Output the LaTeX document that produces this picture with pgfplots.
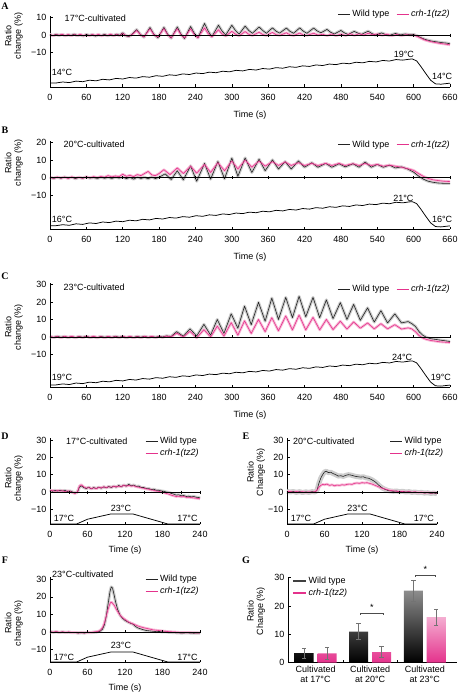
\documentclass[border=0pt]{standalone}
\usepackage{fontspec}
\setmainfont{Liberation Sans}
\newfontfamily\letterfont{Liberation Serif}
\usepackage{pgfplots}
\pgfplotsset{compat=1.18}
\usepackage{pgfplotstable}
\definecolor{wt}{RGB}{35,35,35}
\definecolor{crh}{RGB}{228,50,140}
\definecolor{wtb}{RGB}{205,205,205}
\definecolor{crhb}{RGB}{247,185,214}
\newcommand{\fs}{\fontsize{9}{9.5}\selectfont}

\pgfplotstableread{
t y
0 -27.4
10 -27.4
21 -26.84
32 -27.19
43 -26.33
54 -26.67
65 -25.82
76 -26.16
87 -25.30
98 -25.65
109 -24.79
120 -25.13
131 -24.28
142 -24.62
153 -23.76
164 -24.11
175 -23.25
186 -23.59
197 -22.74
208 -23.08
219 -22.22
230 -22.57
241 -21.71
252 -22.05
263 -21.20
274 -21.54
285 -20.68
296 -21.03
307 -20.17
318 -20.51
329 -19.66
340 -20.00
351 -19.14
362 -19.49
373 -18.63
384 -18.97
395 -18.12
406 -18.46
417 -17.60
428 -17.95
439 -17.09
450 -17.43
461 -16.58
472 -16.92
483 -16.06
494 -16.41
505 -15.55
516 -15.89
527 -15.04
538 -15.38
549 -14.52
560 -14.87
571 -14.01
582 -14.35
593 -13.8
598 -13.7
605 -14.8
612 -18.0
620 -22.0
628 -25.8
636 -27.9
645 -28.1
660 -27.5
}\tempLong

\pgfplotsset{
  base/.style={scale only axis, clip=false, axis x line=bottom, axis y line=left,
    axis line style={-, line width=0.5pt}, tick align=inside, major tick length=2.5pt,
    tick style={black, line width=0.5pt}, font=\fs, tick label style={font=\fs},
    label style={font=\fs}, /pgf/number format/assume math mode=true,
    xticklabel shift=4pt,
    legend style={draw=none, fill=none, font=\fs, inner sep=0pt},
    legend cell align=left,
    legend image code/.code={\draw[##1] (0pt,0pt) -- (12pt,0pt);}},
  trace/.style={base, xmin=0, xmax=660, width=400pt, xtick={0,60,...,660},
    ytick={-10,0,10}, yticklabels={−10,0,10}, xlabel={Time (s)}, xlabel style={yshift=-3pt},
    legend columns=2, legend style={/tikz/every even column/.append style={column sep=5pt}}},
  short/.style={base, xmin=0, xmax=240, width=150pt, xtick={0,60,...,240},
    xlabel={Time (s)}, xlabel style={yshift=-1pt}},
  wtband/.style={wtb, line width=3pt, line join=round, forget plot},
  crhband/.style={crhb, line width=2.6pt, line join=round, forget plot},
  wtline/.style={wt, line width=0.6pt, line join=round, forget plot},
  crhline/.style={crh, line width=0.6pt, line join=round, forget plot},
  zline/.style={black, line width=0.5pt, mark=|, mark size=1.5pt, mark options={solid, line width=0.5pt}, forget plot},
  templine/.style={black, line width=0.75pt, forget plot},
  barleg/.style={legend image code/.code={\draw[##1] (0pt,0pt) -- (13pt,0pt);}},
}

\begin{document}
\begin{tikzpicture}
\useasboundingbox (0pt,0pt) rectangle (459pt,-692pt);

% ---------------- A ----------------
\begin{axis}[trace, at={(50pt,-87pt)}, anchor=south west, ymin=-29.7, ymax=11, height=71.2pt,
  legend style={at={(axis cs:663,12)}, anchor=east}]
\addlegendimage{wt, line width=0.8pt}\addlegendentry{Wild type}
\addlegendimage{crh, line width=0.8pt}\addlegendentry{\textit{crh-1(tz2)}}
\def\Awt{(0,0.2)(5,-0.3)(10,0.4)(15,-0.2)(20,0.3)(25,-0.4)(30,0.1)(35,-0.2)(40,0.5)(45,-0.3)(50,0.1)(55,-0.5)(60,0.3)(65,-0.2)(70,0.2)(75,-0.6)(80,0.1)(85,-0.3)(90,0.4)(95,-0.4)(100,0.2)(105,-0.3)(110,0.5)(115,-0.2)(120,1.3)(125,-0.4)(130,-0.9)(136,0.6)(143,3.1)(149,0.4)(155,-1.2)(165,4.3)(171,0.6)(178,-1.6)(188,4.4)(194,0.5)(200,-1.8)(210,4.6)(216,0.6)(222,-2.0)(232,4.9)(238,1.0)(244,-1.6)(255,6.6)(261,2.2)(267,-1.0)(278,5.6)(284,2.2)(290,0.0)(300,5.6)(306,2.6)(312,0.5)(322,5.1)(328,2.6)(334,1.0)(345,4.6)(351,2.6)(357,1.0)(367,4.1)(373,2.2)(379,1.1)(390,4.0)(396,2.1)(402,1.0)(412,4.1)(418,2.2)(424,1.0)(435,4.0)(441,2.3)(447,1.3)(457,3.2)(463,1.6)(469,0.6)(480,2.6)(486,1.2)(492,0.3)(502,2.1)(508,1.1)(514,0.4)(525,2.2)(531,0.9)(537,0.0)(547,1.2)(554,0.3)(560,-0.2)(570,0.9)(578,0.1)(586,0.6)(594,0.2)(600,0.3)(606,-0.5)(612,-1.5)(618,-2.4)(624,-3.0)(630,-3.5)(636,-3.8)(642,-4.1)(648,-4.4)(654,-4.6)(660,-5.0)}
\def\Acrh{(0,0.3)(5,-0.4)(10,0.2)(15,-0.1)(20,0.4)(25,-0.3)(30,0.3)(35,-0.4)(40,0.2)(45,-0.2)(50,0.4)(55,-0.3)(60,0.1)(65,-0.4)(70,0.3)(75,-0.2)(80,0.4)(85,-0.5)(90,0.1)(95,-0.2)(100,0.5)(105,-0.4)(110,0.3)(115,-0.3)(120,0.9)(125,-0.3)(130,-0.7)(136,0.4)(143,2.6)(149,0.2)(155,-1.0)(165,3.6)(171,0.4)(178,-1.2)(188,3.7)(194,0.2)(200,-1.5)(210,3.6)(216,0.2)(222,-1.6)(232,3.6)(238,0.3)(244,-1.5)(255,4.1)(261,0.8)(267,-1.0)(278,3.0)(284,0.6)(290,-0.6)(300,2.1)(306,0.5)(312,-0.5)(322,2.0)(328,0.4)(334,-0.3)(345,1.6)(351,0.3)(357,-0.3)(367,1.5)(373,0.2)(379,-0.2)(390,1.3)(396,0.1)(402,-0.3)(412,1.1)(418,0.0)(424,-0.2)(435,1.0)(442,0.0)(450,0.4)(457,-0.3)(465,0.6)(472,-0.4)(480,0.5)(488,-0.3)(495,0.8)(502,-0.2)(510,0.7)(518,0.0)(525,1.0)(532,0.2)(540,0.6)(548,-0.2)(556,0.5)(564,-0.4)(572,0.3)(580,-0.3)(588,0.2)(596,-0.1)(600,0.0)(606,-0.8)(612,-1.8)(618,-2.8)(624,-3.4)(630,-3.9)(636,-4.3)(642,-4.7)(648,-5.0)(654,-5.3)(660,-5.6)}
\addplot[wtband] coordinates {\Awt};
\addplot[crhband] coordinates {\Acrh};
\addplot[wtline] coordinates {\Awt};
\addplot[crhline] coordinates {\Acrh};
\addplot[zline] coordinates {(0,0)(60,0)(120,0)(180,0)(240,0)(300,0)(360,0)(420,0)(480,0)(540,0)(600,0)(660,0)};
\addplot[templine] table[x=t,y=y] {\tempLong};
\node[anchor=west, inner sep=0pt] at (axis cs:24,9.7) {17°C-cultivated};
\node[inner sep=0pt] at (axis cs:19.8,-21.5) {14°C};
\node[inner sep=0pt] at (axis cs:584,-10.9) {19°C};
\node[inner sep=0pt] at (axis cs:647,-23.8) {14°C};
\end{axis}

% ---------------- B ----------------
\begin{axis}[trace, at={(50pt,-229pt)}, anchor=south west, ymin=-29.3, ymax=21, height=88pt,
  ytick={-10,0,10,20}, yticklabels={−10,0,10,20},
  legend style={at={(axis cs:663,18.9)}, anchor=east}]
\addlegendimage{wt, line width=0.8pt}\addlegendentry{Wild type}
\addlegendimage{crh, line width=0.8pt}\addlegendentry{\textit{crh-1(tz2)}}
\def\Bwt{(0,0.2)(6,-0.4)(12,0.3)(18,-0.3)(24,0.4)(30,-0.2)(36,0.3)(42,-0.5)(48,0.2)(54,-0.3)(60,0.4)(66,-0.2)(72,0.1)(78,-0.4)(84,0.3)(90,-0.3)(96,0.2)(102,-0.4)(108,0.3)(114,-0.2)(120,0.4)(126,-0.5)(132,0.2)(138,-0.8)(144,0.3)(150,-0.4)(156,0.2)(162,-0.6)(168,0.4)(174,-0.5)(180,0.3)(190,2.2)(200,-1.0)(210,4.0)(220,-1.2)(232,6.8)(242,-2.0)(255,8.2)(265,-0.8)(277,9.3)(288,-0.6)(300,11.2)(310,0.8)(322,11.3)(333,3.0)(345,10.6)(355,4.0)(367,10.2)(377,5.0)(388,9.2)(398,5.0)(410,9.6)(420,6.0)(432,8.6)(442,6.0)(455,8.2)(465,6.0)(477,8.0)(487,6.2)(500,8.0)(510,6.0)(520,9.0)(530,6.0)(540,7.6)(550,6.0)(560,7.2)(570,5.6)(580,6.2)(590,5.0)(600,3.2)(608,1.0)(616,-0.8)(624,-2.0)(632,-2.6)(640,-3.0)(650,-3.2)(660,-3.2)}
\def\Bcrh{(0,0.3)(6,-0.3)(12,0.4)(18,-0.2)(24,0.3)(30,-0.4)(36,0.5)(42,-0.2)(48,0.3)(54,-0.3)(60,0.5)(66,0.0)(72,0.6)(78,0.1)(84,0.7)(90,0.3)(96,1.2)(102,0.5)(108,1.0)(114,0.6)(120,2.0)(126,0.8)(132,1.4)(138,0.6)(144,1.8)(150,1.2)(156,2.4)(162,3.6)(168,1.6)(174,1.2)(180,2.4)(188,4.6)(198,1.8)(210,5.6)(220,2.4)(232,6.6)(242,2.6)(255,7.6)(265,3.0)(277,8.6)(288,4.0)(300,9.6)(310,5.0)(322,10.1)(333,6.0)(345,9.6)(355,6.6)(367,9.2)(377,7.0)(388,9.0)(398,7.0)(410,8.6)(420,7.0)(432,8.2)(442,7.0)(455,8.2)(465,7.0)(477,8.2)(487,7.0)(500,8.0)(510,7.0)(520,8.2)(530,7.0)(540,7.6)(550,6.6)(560,7.2)(570,6.6)(580,6.0)(590,5.2)(600,4.2)(608,2.4)(616,0.8)(624,-0.4)(632,-1.2)(640,-1.6)(650,-2.0)(660,-2.2)}
\addplot[wtband] coordinates {\Bwt};
\addplot[crhband] coordinates {\Bcrh};
\addplot[wtline] coordinates {\Bwt};
\addplot[crhline] coordinates {\Bcrh};
\addplot[zline] coordinates {(0,0)(60,0)(120,0)(180,0)(240,0)(300,0)(360,0)(420,0)(480,0)(540,0)(600,0)(660,0)};
\addplot[templine] table[x=t,y=y] {\tempLong};
\node[anchor=west, inner sep=0pt] at (axis cs:22,19.3) {20°C-cultivated};
\node[inner sep=0pt] at (axis cs:19.8,-23.6) {16°C};
\node[inner sep=0pt] at (axis cs:583,-11.8) {21°C};
\node[inner sep=0pt] at (axis cs:647,-23.6) {16°C};
\end{axis}

% ---------------- C ----------------
\begin{axis}[trace, at={(50pt,-387pt)}, anchor=south west, ymin=-28.6, ymax=31, height=104.3pt,
  ytick={-10,0,10,20,30}, yticklabels={−10,0,10,20,30},
  legend style={at={(axis cs:663,27.4)}, anchor=east}]
\addlegendimage{wt, line width=0.8pt}\addlegendentry{Wild type}
\addlegendimage{crh, line width=0.8pt}\addlegendentry{\textit{crh-1(tz2)}}
\def\Cwt{(0,0.2)(6,-0.3)(12,0.4)(18,-0.2)(24,0.3)(30,-0.3)(36,0.2)(42,-0.4)(48,0.3)(54,-0.2)(60,0.4)(66,-0.3)(72,0.1)(78,-0.4)(84,0.3)(90,-0.2)(96,0.2)(102,-0.3)(108,0.4)(114,-0.2)(120,0.3)(126,-0.4)(132,0.2)(138,-0.3)(144,0.3)(150,-0.2)(156,0.4)(162,-0.3)(168,0.2)(174,-0.2)(180,0.3)(186,0.0)(192,0.6)(200,0.3)(209,3.0)(220,0.4)(231,4.6)(242,0.5)(254,7.2)(265,1.0)(276,10.0)(287,2.0)(299,13.2)(310,5.0)(321,17.6)(332,7.0)(344,19.8)(355,9.0)(366,22.2)(377,10.0)(389,22.6)(400,11.0)(411,23.2)(422,11.5)(434,22.6)(445,11.0)(456,21.2)(467,10.5)(479,19.6)(490,10.0)(501,18.6)(512,9.5)(524,16.6)(535,8.5)(546,15.0)(557,8.0)(569,13.2)(580,8.0)(591,8.8)(597,7.6)(603,6.0)(609,3.0)(615,1.0)(621,-0.2)(628,-1.0)(636,-1.4)(644,-1.8)(652,-2.2)(660,-2.6)}
\def\Ccrh{(0,0.3)(6,-0.2)(12,0.2)(18,-0.4)(24,0.3)(30,-0.2)(36,0.4)(42,-0.3)(48,0.2)(54,-0.3)(60,0.3)(66,-0.2)(72,0.4)(78,-0.3)(84,0.2)(90,-0.4)(96,0.3)(102,-0.2)(108,0.2)(114,-0.3)(120,0.3)(126,-0.2)(132,0.3)(138,-0.4)(144,0.2)(150,-0.3)(156,0.3)(162,-0.2)(168,0.4)(174,-0.3)(180,0.2)(186,-0.2)(192,0.5)(200,0.0)(209,2.2)(220,0.0)(231,3.2)(242,-0.5)(254,4.2)(265,0.0)(276,6.2)(287,0.5)(299,8.2)(310,1.0)(321,9.2)(332,2.0)(344,10.0)(355,3.0)(366,11.0)(377,3.5)(389,12.0)(400,4.0)(411,12.5)(422,4.0)(434,11.2)(445,4.0)(456,10.0)(467,4.2)(479,9.0)(490,4.5)(501,8.6)(512,5.0)(524,8.0)(535,4.6)(546,7.6)(557,4.6)(569,7.0)(580,4.5)(591,5.2)(597,4.6)(603,3.0)(609,0.8)(615,-0.6)(621,-1.4)(628,-2.0)(636,-2.4)(644,-2.8)(652,-3.0)(660,-3.2)}
\addplot[wtband] coordinates {\Cwt};
\addplot[crhband] coordinates {\Ccrh};
\addplot[wtline] coordinates {\Cwt};
\addplot[crhline] coordinates {\Ccrh};
\addplot[zline] coordinates {(0,0)(60,0)(120,0)(180,0)(240,0)(300,0)(360,0)(420,0)(480,0)(540,0)(600,0)(660,0)};
\addplot[templine] table[x=t,y=y] {\tempLong};
\node[anchor=west, inner sep=0pt] at (axis cs:22,28.6) {23°C-cultivated};
\node[inner sep=0pt] at (axis cs:19.8,-23.0) {19°C};
\node[inner sep=0pt] at (axis cs:581,-11.6) {24°C};
\node[inner sep=0pt] at (axis cs:645,-23.0) {19°C};
\end{axis}

% ---------------- D ----------------
\begin{axis}[short, at={(50pt,-524pt)}, anchor=south west, ymin=-18.46, ymax=31, height=85.7pt,
  ytick={-10,0,10,20,30}, yticklabels={−10,0,10,20,30},
  legend style={at={(axis cs:152,33)}, anchor=north west}]
\addlegendimage{wt, line width=0.8pt}\addlegendentry{Wild type}
\addlegendimage{crh, line width=0.8pt}\addlegendentry{\textit{crh-1(tz2)}}
\def\Dwt{(0,1.0)(4,0.4)(8,1.0)(12,0.5)(16,1.0)(20,0.6)(24,0.9)(28,0.3)(32,0.6)(36,0.0)(40,-0.6)(44,0.0)(47,2.8)(50,3.6)(54,2.6)(58,2.0)(62,2.8)(66,1.8)(70,2.6)(74,2.0)(78,2.8)(82,2.2)(86,3.0)(90,2.4)(94,3.2)(98,2.6)(102,3.4)(106,2.8)(110,3.8)(114,3.0)(118,4.0)(122,3.4)(126,4.4)(130,3.6)(134,4.0)(138,3.2)(142,3.4)(146,2.6)(150,2.6)(154,2.0)(158,2.0)(162,1.4)(166,1.6)(170,1.0)(174,1.0)(178,0.6)(182,0.4)(186,0.0)(190,-0.2)(194,-0.8)(198,-1.2)(202,-1.8)(206,-1.6)(210,-2.2)(214,-2.0)(218,-2.6)(222,-2.4)(226,-2.8)(230,-2.6)(234,-3.0)(238,-3.2)(240,-3.4)}
\def\Dcrh{(0,0.6)(4,1.0)(8,0.4)(12,0.9)(16,0.5)(20,0.8)(24,0.2)(28,0.7)(32,0.3)(36,-0.3)(40,-0.8)(44,0.2)(47,3.4)(50,4.2)(54,3.0)(58,2.2)(62,2.6)(66,2.0)(70,2.4)(74,2.0)(78,2.6)(82,2.4)(86,3.0)(90,2.6)(94,3.0)(98,2.8)(102,3.2)(106,3.0)(110,3.4)(114,3.2)(118,3.8)(122,3.4)(126,3.8)(130,3.4)(134,3.6)(138,3.0)(142,2.8)(146,2.4)(150,2.2)(154,1.8)(158,1.6)(162,1.2)(166,1.0)(170,0.6)(174,0.4)(178,0.0)(182,-0.4)(186,-0.8)(190,-1.2)(194,-1.8)(198,-2.2)(202,-2.6)(206,-2.4)(210,-2.8)(214,-2.6)(218,-3.0)(222,-3.0)(226,-3.2)(230,-3.4)(234,-3.6)(238,-3.8)(240,-4.0)}
\addplot[wtband] coordinates {\Dwt};
\addplot[crhband] coordinates {\Dcrh};
\addplot[wtline] coordinates {\Dwt};
\addplot[crhline] coordinates {\Dcrh};
\addplot[zline] coordinates {(0,0)(30,0)(60,0)(90,0)(120,0)(150,0)(180,0)(210,0)(240,0)};
\addplot[templine] coordinates {(0,-18.4)(43,-18.4)(60,-15.7)(97,-12.7)(133,-12.7)(188,-18.4)(240,-18.4)};
\node[anchor=west, inner sep=0pt] at (axis cs:25.6,29.4) {17°C-cultivated};
\node[inner sep=0pt] at (axis cs:22.4,-15.0) {17°C};
\node[inner sep=0pt] at (axis cs:113.6,-9.2) {23°C};
\node[inner sep=0pt] at (axis cs:220,-15.0) {17°C};
\end{axis}

% ---------------- E ----------------
\begin{axis}[short, at={(287pt,-524pt)}, anchor=south west, ymin=-18.46, ymax=31, height=85.7pt,
  ytick={-10,0,10,20,30}, yticklabels={−10,0,10,20,30},
  legend style={at={(axis cs:164,33)}, anchor=north west}]
\addlegendimage{wt, line width=0.8pt}\addlegendentry{Wild type}
\addlegendimage{crh, line width=0.8pt}\addlegendentry{\textit{crh-1(tz2)}}
\def\Ewt{(0,0.4)(5,0.0)(10,0.3)(15,-0.2)(20,0.2)(25,-0.3)(30,0.1)(35,-0.2)(40,0.2)(45,0.0)(48,1.0)(51,5.0)(54,8.0)(57,10.0)(60,11.6)(63,12.0)(66,11.2)(70,11.4)(74,10.6)(78,10.0)(82,9.2)(86,9.4)(90,9.0)(94,9.6)(98,10.0)(102,9.8)(106,9.4)(110,9.0)(114,8.8)(118,8.6)(122,8.8)(126,8.2)(130,8.0)(134,7.4)(138,6.6)(142,5.6)(146,4.2)(150,3.0)(154,2.0)(158,1.4)(162,0.8)(166,0.6)(170,0.4)(175,0.6)(180,0.2)(185,0.4)(190,0.0)(195,0.2)(200,-0.2)(205,0.0)(210,-0.4)(215,-0.2)(220,-0.6)(225,-0.4)(230,-0.8)(235,-0.6)(240,-1.0)}
\def\Ecrh{(0,0.2)(5,0.4)(10,-0.1)(15,0.3)(20,0.0)(25,0.2)(30,-0.2)(35,0.1)(40,-0.1)(45,0.2)(48,1.2)(51,2.8)(54,3.8)(57,4.4)(60,4.2)(64,4.6)(68,3.8)(72,4.2)(76,3.6)(80,4.0)(84,3.8)(88,4.2)(92,4.0)(96,4.4)(100,4.6)(104,4.4)(108,5.0)(112,5.2)(116,5.0)(120,5.4)(124,5.2)(128,5.4)(132,5.0)(136,4.6)(140,4.0)(144,3.4)(148,2.8)(152,2.2)(156,1.8)(160,1.4)(164,1.0)(168,0.8)(172,0.6)(176,0.4)(180,0.2)(185,0.3)(190,0.0)(195,0.2)(200,-0.1)(205,0.1)(210,-0.3)(215,-0.1)(220,-0.5)(225,-0.3)(230,-0.6)(235,-0.4)(240,-0.6)}
\addplot[wtband, line width=5pt] coordinates {\Ewt};
\addplot[crhband] coordinates {\Ecrh};
\addplot[wtline] coordinates {\Ewt};
\addplot[crhline] coordinates {\Ecrh};
\addplot[zline] coordinates {(0,0)(60,0)(120,0)(180,0)(240,0)};
\addplot[templine] coordinates {(0,-18.4)(43,-18.4)(60,-15.7)(97,-12.7)(133,-12.7)(188,-18.4)(240,-18.4)};
\node[anchor=west, inner sep=0pt] at (axis cs:9.6,29.4) {20°C-cultivated};
\node[inner sep=0pt] at (axis cs:22.4,-15.0) {17°C};
\node[inner sep=0pt] at (axis cs:112.8,-9.6) {23°C};
\node[inner sep=0pt] at (axis cs:219,-15.0) {17°C};
\end{axis}

% ---------------- F ----------------
\begin{axis}[short, at={(50pt,-662pt)}, anchor=south west, ymin=-17.05, ymax=31, height=84.6pt,
  ytick={-10,0,10,20,30}, yticklabels={−10,0,10,20,30},
  legend style={at={(axis cs:152,33.5)}, anchor=north west}]
\addlegendimage{wt, line width=0.8pt}\addlegendentry{Wild type}
\addlegendimage{crh, line width=0.8pt}\addlegendentry{\textit{crh-1(tz2)}}
\def\Fwt{(0,0.2)(5,-0.2)(10,0.1)(15,-0.3)(20,0.0)(25,-0.3)(30,-0.1)(35,-0.4)(40,-0.3)(45,-0.6)(50,-0.4)(55,-0.6)(60,-0.3)(65,-0.4)(70,-0.2)(75,0.0)(80,0.4)(84,1.6)(87,4.0)(90,9.0)(93,16.0)(96,23.0)(98,25.6)(100,25.0)(102,22.0)(105,17.0)(108,13.0)(112,9.6)(116,7.8)(120,6.6)(125,5.6)(130,4.8)(133,4.4)(136,3.4)(140,2.4)(145,1.8)(150,1.2)(155,0.8)(160,0.6)(165,0.4)(170,0.2)(175,0.3)(180,0.0)(185,0.1)(190,-0.2)(195,-0.3)(200,-0.4)(210,-0.6)(220,-0.5)(230,-0.7)(240,-0.6)}
\def\Fcrh{(0,0.1)(5,-0.1)(10,0.2)(15,-0.2)(20,0.1)(25,-0.2)(30,0.0)(35,-0.3)(40,-0.2)(45,-0.5)(50,-0.3)(55,-0.5)(60,-0.2)(65,-0.3)(70,0.0)(75,0.2)(80,0.8)(84,2.4)(87,5.0)(90,9.0)(93,13.0)(96,16.2)(98,17.0)(100,16.4)(103,15.0)(106,13.0)(110,10.6)(114,8.8)(118,7.6)(122,6.6)(126,5.6)(130,5.0)(134,4.4)(138,3.8)(142,3.2)(146,2.8)(150,2.4)(155,2.0)(160,1.6)(165,1.2)(170,1.0)(175,0.8)(180,0.6)(185,0.4)(190,0.2)(200,0.0)(210,-0.3)(220,-0.2)(230,-0.4)(240,-0.5)}
\addplot[wtband] coordinates {\Fwt};
\addplot[crhband] coordinates {\Fcrh};
\addplot[wtline] coordinates {\Fwt};
\addplot[crhline] coordinates {\Fcrh};
\addplot[zline] coordinates {(0,0)(60,0)(120,0)(180,0)(240,0)};
\addplot[templine] coordinates {(0,-17.0)(43,-17.0)(60,-14.3)(97,-11.4)(133,-11.4)(188,-17.0)(240,-17.0)};
\node[anchor=west, inner sep=0pt] at (axis cs:3.2,33) {23°C-cultivated};
\node[inner sep=0pt] at (axis cs:22.4,-14.2) {17°C};
\node[inner sep=0pt] at (axis cs:113.6,-7.4) {23°C};
\node[inner sep=0pt] at (axis cs:220,-14.2) {17°C};
\end{axis}

% ---------------- G ----------------
\begin{axis}[base, barleg, at={(288pt,-662.5pt)}, anchor=south west, width=169pt, height=84.9pt,
  xmin=-0.504, xmax=2.59, ymin=0, ymax=30, ytick={0,10,20,30},
  xtick={0.5,1.5}, xticklabels={},
  legend style={at={(axis cs:-0.43,31)}, anchor=north west}]
\addlegendimage{black!75, line width=1.3pt}\addlegendentry{Wild type}
\addlegendimage{crh, line width=1.3pt}\addlegendentry{\textit{crh-1(tz2)}}
\addplot[ybar, bar width=0.348, bar shift=-0.21, draw=none, bottom color=black, top color=black!45, forget plot]
  coordinates {(0,3.3) (1,10.9) (2,25.4)};
\addplot[ybar, bar width=0.348, bar shift=0.21, draw=none, bottom color=crh, top color=crh!40, forget plot]
  coordinates {(0,3.2) (1,3.7) (2,16.0)};
\addplot[draw=none, mark=none, forget plot, error bars/.cd, y dir=both, y explicit,
  error bar style={black!55, line width=0.5pt}, error mark options={black!55, mark size=2.2pt, rotate=90, line width=0.5pt}]
  coordinates {(-0.21,3.3) +- (0,1.9) (0.79,10.9) +- (0,2.8) (1.79,25.4) +- (0,3.6)
               (0.21,3.2) +- (0,2.1) (1.21,3.7) +- (0,1.9) (2.21,16.0) +- (0,2.8)};
\draw[black!70, line width=0.5pt] (axis cs:0.82,16.8) -- (axis cs:0.82,17.5) -- (axis cs:1.24,17.5) -- (axis cs:1.24,16.8);
\node[inner sep=0pt] at (axis cs:1.03,19.3) {*};
\draw[black!70, line width=0.5pt] (axis cs:1.82,30.3) -- (axis cs:1.82,31) -- (axis cs:2.2,31) -- (axis cs:2.2,30.3);
\node[inner sep=0pt] at (axis cs:2.01,32.8) {*};
\node[align=center, anchor=north, inner sep=0pt, font=\fontsize{9}{10}\selectfont] at (axis cs:0,-1.2) {Cultivated\\at 17°C};
\node[align=center, anchor=north, inner sep=0pt, font=\fontsize{9}{10}\selectfont] at (axis cs:1,-1.2) {Cultivated\\at 20°C};
\node[align=center, anchor=north, inner sep=0pt, font=\fontsize{9}{10}\selectfont] at (axis cs:2,-1.2) {Cultivated\\at 23°C};
\end{axis}

% y labels
\node[rotate=90, align=center, font=\fs] at (13.75pt,-36pt) {Ratio\\change (\%)};
\node[rotate=90, align=center, font=\fs] at (13.75pt,-163pt) {Ratio\\change (\%)};
\node[rotate=90, align=center, font=\fs] at (13.75pt,-327pt) {Ratio\\change (\%)};
\node[rotate=90, align=center, font=\fs] at (13.75pt,-478pt) {Ratio\\change (\%)};
\node[rotate=90, align=center, font=\fs] at (256pt,-472pt) {Ratio\\Change (\%)};
\node[rotate=90, align=center, font=\fs] at (13.75pt,-623pt) {Ratio\\change (\%)};
\node[rotate=90, align=center, font=\fs] at (256pt,-611pt) {Ratio\\Change (\%)};

% panel letters
\begin{scope}[every node/.style={font=\letterfont\bfseries\fontsize{10}{10}\selectfont, inner sep=0pt}]
\node at (5pt,-6.5pt) {A};
\node at (5pt,-130pt) {B};
\node at (5pt,-276pt) {C};
\node at (5pt,-436pt) {D};
\node at (246pt,-436pt) {E};
\node at (5pt,-560pt) {F};
\node at (246pt,-560pt) {G};
\end{scope}
\end{tikzpicture}
\end{document}
